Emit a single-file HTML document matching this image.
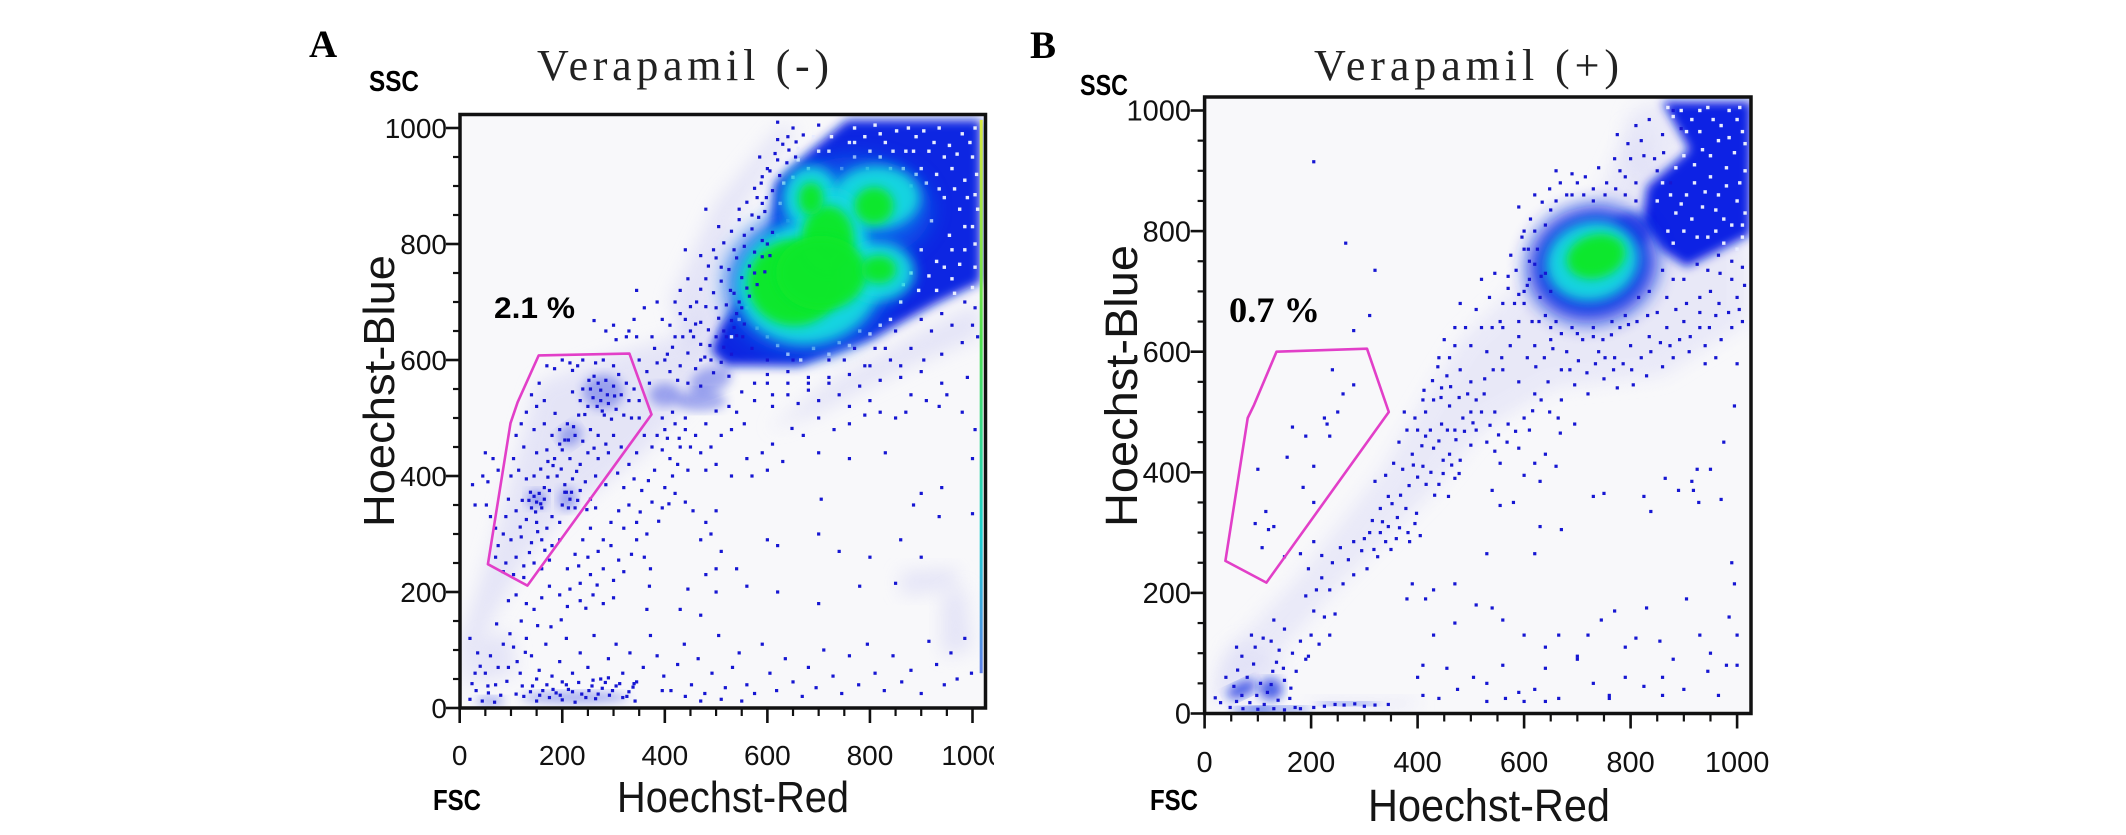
<!DOCTYPE html>
<html lang="en">
<head>
<meta charset="utf-8">
<title>Verapamil side population flow cytometry plots</title>
<style>
html,body{margin:0;padding:0;background:#fff;width:2126px;height:835px;overflow:hidden}
svg{display:block}
.tick{font-family:"Liberation Sans",sans-serif;fill:#111}
.axt{font-family:"Liberation Sans",sans-serif;fill:#151515}
.ttl{font-family:"Liberation Serif",serif;fill:#222}
.let{font-family:"Liberation Serif",serif;font-weight:bold;fill:#000}
.chan{font-family:"Liberation Sans",sans-serif;font-weight:bold;fill:#000}
</style>
</head>
<body>
<svg id="fig" xmlns="http://www.w3.org/2000/svg" width="2126" height="835" viewBox="0 0 2126 835">
<defs>
<filter id="blurPale" x="-40%" y="-40%" width="180%" height="180%"><feGaussianBlur stdDeviation="9"/></filter>
<filter id="blurBlue" x="-20%" y="-20%" width="140%" height="140%"><feGaussianBlur stdDeviation="5"/></filter>
<filter id="blurMid" x="-40%" y="-40%" width="180%" height="180%"><feGaussianBlur stdDeviation="10"/></filter>
<filter id="blurCyan" x="-40%" y="-40%" width="180%" height="180%"><feGaussianBlur stdDeviation="6"/></filter>
<filter id="blurGreen" x="-40%" y="-40%" width="180%" height="180%"><feGaussianBlur stdDeviation="5"/></filter>
<clipPath id="clipA"><rect x="461" y="116" width="523" height="591"/></clipPath>
<clipPath id="clipB"><rect x="1206" y="98" width="544" height="614"/></clipPath>
<clipPath id="clipLabelA"><rect x="430" y="720" width="564" height="70"/></clipPath>
<linearGradient id="edgeGrad" x1="0" y1="0" x2="0" y2="1">
<stop offset="0" stop-color="#d8e840"/><stop offset="0.4" stop-color="#50e050"/><stop offset="0.75" stop-color="#20d0d0"/><stop offset="1" stop-color="#6080e8"/>
</linearGradient>
</defs>

<g id="panelA">
<text class="let" x="309" y="57" font-size="39">A</text>
<text class="ttl" x="537" y="80" font-size="44" textLength="292" lengthAdjust="spacing">Verapamil (-)</text>
<text class="chan" x="369" y="91" font-size="29" textLength="50" lengthAdjust="spacingAndGlyphs">SSC</text>
<text class="chan" x="433" y="810" font-size="29" textLength="48" lengthAdjust="spacingAndGlyphs">FSC</text>
<text class="axt" x="617" y="812" font-size="44" textLength="232" lengthAdjust="spacingAndGlyphs">Hoechst-Red</text>
<text class="axt" transform="translate(394,527) rotate(-90)" font-size="44" textLength="272" lengthAdjust="spacingAndGlyphs">Hoechst-Blue</text>
<rect x="460" y="114.5" width="525.5" height="593.5" fill="#f8f8fa"/>
<g id="marksA" clip-path="url(#clipA)"></g>
<g id="gateA"></g>
<rect x="460" y="114.5" width="525.5" height="593.5" fill="none" stroke="#111" stroke-width="3.5"/>
<g id="axesA"></g>
<text x="494" y="318" font-family="Liberation Sans, sans-serif" font-weight="bold" font-size="30" textLength="81" lengthAdjust="spacingAndGlyphs" fill="#000">2.1 %</text>
</g>

<g id="panelB">
<text class="let" x="1030" y="58" font-size="39">B</text>
<text class="ttl" x="1314" y="80" font-size="44" textLength="305" lengthAdjust="spacing">Verapamil (+)</text>
<text class="chan" x="1080" y="95" font-size="29" textLength="48" lengthAdjust="spacingAndGlyphs">SSC</text>
<text class="chan" x="1150" y="810" font-size="29" textLength="48" lengthAdjust="spacingAndGlyphs">FSC</text>
<text class="axt" x="1368" y="821" font-size="45" textLength="242" lengthAdjust="spacingAndGlyphs">Hoechst-Red</text>
<text class="axt" transform="translate(1137,527) rotate(-90)" font-size="45" textLength="282" lengthAdjust="spacingAndGlyphs">Hoechst-Blue</text>
<rect x="1204.6" y="97" width="546.4" height="616.5" fill="#f8f8fa"/>
<g id="marksB" clip-path="url(#clipB)"></g>
<g id="gateB"></g>
<rect x="1204.6" y="97" width="546.4" height="616.5" fill="none" stroke="#111" stroke-width="3.5"/>
<g id="axesB"></g>
<text x="1229" y="322" font-family="Liberation Serif, serif" font-weight="bold" font-size="36" textLength="91" lengthAdjust="spacingAndGlyphs" fill="#000">0.7 %</text>
</g>
</svg>

<script>
const tickLabels = [0, 200, 400, 600, 800, 1000];
const minorTicks = [50, 100, 150, 250, 300, 350, 450, 500, 550, 650, 700, 750, 850, 900, 950];

const gateA = [[154,608],[331,611],[374,506],[132,211],[55,248],[99,491],[113,527]];
const gateB = [[135,600],[305,605],[346,500],[116,217],[39,253],[81,490],[93,512]];

/* density regions, read as outlines in axis units */
const paleRegionsA = [
 [[0,20],[60,150],[130,260],[200,330],[360,440],[480,560],[560,650],[500,720],[420,640],[300,610],[150,560],[70,300],[0,110]],
 [[600,480],[720,560],[900,650],[1015,700],[1015,640],[880,590],[700,510]],
 [[860,195],[970,205],[970,240],[860,235]],
 [[940,90],[1000,100],[985,210],[940,190]],
 [[20,40],[110,60],[100,130],[40,120]],
 [[450,600],[540,850],[660,1000],[620,1000],[500,870],[410,700]]
];
const blueRegionsA = [
 [[756,1014],[690,965],[615,905],[610,835],[585,770],[555,716],[510,660],[490,615],[520,590],[567,590],[662,590],[803,636],[928,697],[1016,734],[1016,1014]]
];
const blueBlobsA = [[400,540,30,20,0],[470,530,50,18,0],[490,565,42,22,-20],[280,545,40,30,0],[215,470,24,18,-35],[150,360,20,16,0],[210,360,18,20,0],[225,18,105,10,0],[60,12,28,8,0]];
const midBlobsA = [[680,735,165,125,-10],[770,860,150,90,0]];
const cyanBlobsA = [[685,880,55,55,0],[813,880,85,55,0],[680,733,140,105,-10],[728,816,66,75,0],[817,752,70,50,0]];
const greenBlobsA = [[652,733,90,74,0],[718,810,50,56,0],[705,750,88,64,0],[808,866,38,32,0],[685,878,24,28,0],[817,756,34,24,0]];
const edgeStripA = [1014, 60, 1014];

const paleRegionsB = [
 [[20,30],[120,80],[260,220],[420,360],[520,470],[660,540],[860,560],[1020,650],[1020,780],[860,900],[800,980],[740,860],[600,720],[480,620],[330,400],[170,220],[30,90]],
 [[10,20],[120,20],[150,90],[60,120]],
 [[860,1015],[900,940],[840,880],[790,900],[800,1000]],
 [[200,5],[400,10],[400,24],[200,24]]
];
const blueRegionsB = [
 [[859,1015],[910,935],[831,874],[821,812],[859,768],[905,741],[1025,794],[1027,1015]]
];
const blueBlobsB = [[800,800,36,30,0],[70,40,30,12,-25],[125,40,22,18,0],[90,6,40,5,0],[140,8,60,4,0],[270,16,60,3,0]];
const midBlobsB = [[728,745,122,96,-14]];
const cyanBlobsB = [[728,750,88,66,-14]];
const greenBlobsB = [[735,758,56,36,-16]];

/* individual events, as [Hoechst-Red, Hoechst-Blue] */
const eventsA = [
[170,590],[185,585],[200,600],[215,595],[230,590],[220,582],[240,600],[265,595],[280,600],[300,590],[310,575],[325,560],[340,550],[350,530],[330,530],[315,540],[300,555],[285,565],[270,560],[255,550],[260,535],[275,530],[290,525],[305,515],[320,505],[335,500],[350,500],[250,520],[235,530],[220,545],[155,560],[140,540],[150,520],[165,530],[130,510],[120,490],[145,480],[165,490],[180,470],[195,480],[210,490],[225,470],[240,460],[255,480],[270,470],[285,455],[300,470],[315,450],[290,440],[270,430],[250,440],[235,420],[215,430],[200,445],[185,430],[170,445],[150,440],[125,450],[110,470],[105,430],[100,400],[115,410],[130,395],[145,400],[155,370],[165,360],[175,375],[150,355],[140,345],[160,345],[190,400],[205,385],[220,395],[235,375],[215,360],[200,350],[225,345],[245,390],[265,400],[255,360],[180,330],[195,320],[170,310],[150,320],[130,325],[110,340],[95,360],[90,330],[85,300],[100,290],[120,295],[140,285],[160,290],[180,280],[195,290],[75,280],[70,260],[90,250],[110,260],[125,245],[145,250],[160,240],[175,255],[105,230],[125,225],[85,235],[208,372],[198,412],[228,408],[262,448],[278,512],[296,498],[244,506],[212,462],[186,508],[158,412],[138,372],[122,358],[172,398],[248,342],[118,312],[136,268],[152,304],[166,272],
[50,440],[65,430],[45,400],[55,390],[25,385],[52,350],[60,330],[70,310],[75,410],[30,350],
[360,470],[375,450],[345,440],[330,420],[395,445],[410,430],[430,450],[425,420],[445,410],[415,400],[400,380],[380,410],[340,395],[320,380],[330,350],[355,375],[375,355],[395,345],[420,370],[440,355],[455,340],[310,340],[295,320],[320,310],[345,320],[365,300],[280,290],[255,310],[240,290],[225,265],[250,260],[270,270],[295,280],[310,255],[335,265],[320,235],[300,220],[280,240],[255,230],[235,215],[210,240],[215,205],[195,195],[175,210],[160,190],[145,170],[130,180],[110,195],[95,185],[210,175],[235,185],[260,195],[280,180],[300,190],[365,170],[370,210],[372,240],[360,260],[345,290],[265,345],[285,385],[308,405],[368,392],[408,352],[388,322],[352,338],[232,245],[268,212],[246,172],[198,152],[178,140],[152,142],[120,150],[98,128],[72,145],
[400,480],[420,490],[440,500],[415,510],[395,500],[460,470],[480,490],[470,440],[450,450],[490,450],[510,470],[530,480],[555,490],[480,410],[500,420],[590,440],[610,455],[630,425],[560,430],[530,400],[570,400],[600,410],[440,480],[428,465],[405,465],[385,470],[648,482],[670,470],[700,500],[730,480],[760,520],[800,530],[850,500],[880,540],[935,520],[1005,480],[980,510],[940,560],[905,600],[860,590],[830,620],[790,590],[750,600],[720,570],[680,560],[640,540],[610,520],[650,600],[600,560],[575,530],[540,510],[700,440],[760,430],[830,440],[1000,430],[940,380],[900,370],[885,350],[705,360],[700,300],[740,270],[800,260],[860,290],[900,260],[935,330],[1000,335],[600,290],[620,280],[500,340],[480,320],[490,300],[470,290],[510,270],[540,240],[500,240],[480,230],[560,210],[620,200],[700,180],[780,210],[850,215],[500,200],[430,170],[445,205],[470,160],
[20,120],[35,95],[50,60],[60,90],[70,40],[85,110],[95,70],[105,105],[118,60],[130,120],[140,90],[155,65],[168,110],[180,55],[195,80],[208,120],[220,60],[235,95],[250,70],[262,125],[275,50],[290,85],[305,110],[318,60],[332,95],[345,45],[358,70],[372,125],[385,90],[398,55],[412,30],[425,75],[438,110],[452,40],[465,85],[478,25],[492,60],[505,125],[518,35],[532,70],[545,95],[560,40],[575,25],[590,110],[605,60],[618,30],[635,85],[650,45],[668,20],[680,70],[695,35],[710,100],[728,55],[745,25],[760,90],[778,40],[795,110],[810,60],[828,30],[845,90],[862,45],[880,65],[900,25],[915,115],[930,75],[945,40],[958,95],[970,50],[985,120],[998,60],[20,15],[32,30],[44,12],[56,26],[68,10],[80,22],[125,20],[138,28],[150,12],[162,30],[175,18],[188,26],[200,14],[212,32],[225,10],[238,24],[252,30],[265,16],[278,34],[292,22],[305,38],[318,18],[330,28],[342,12],[260,48],[200,45],[150,50],[290,52],[340,42],[395,30],[440,20],[470,12],[510,15],[550,12],
[456,640],[470,665],[488,625],[500,690],[515,650],[528,720],[540,680],[552,640],[462,700],[440,670],[420,640],[405,610],[385,595],[365,580],[345,640],[325,640],[305,635],[285,650],[420,700],[445,740],[480,740],[510,760],[535,790],[555,815],[570,850],[580,880],[590,870],[495,790],[470,780],[440,790],[395,670],[380,620],[530,610],[570,620],[600,600],[640,580],[680,570],[720,600],[770,620],[810,620],[850,650],[900,670],[940,680],[985,700],[1005,690],[620,945],[600,930],[588,905],[640,985],[700,1005],[650,1000],[430,720],[360,690],[345,720],[545,860],[505,830],[480,860],[620,980],[585,950],[620,1010],
[400,600],[415,622],[430,590],[445,612],[460,585],[478,605],[495,578],[510,596],[525,572],[540,642],[555,662],[470,627],[485,652],[505,672],[520,695],[535,715],[550,742],[565,762],[575,786],[590,806],[500,640],[515,622],[480,692],[495,716],[510,736],[525,756],[540,776],[555,796],[570,826],[583,846],[595,856],[460,662],[450,692],[470,722],[485,762],[500,776],[515,802],[530,822],[545,842],[560,872],[575,896],[590,916],[605,926],[615,956],[630,972],[642,962],[656,976],[530,668],[545,700],[560,724],[575,750],[590,778],[600,800],[470,600],[490,600],[520,640],[535,656],[550,690],[565,710],[580,730],[595,752],[605,780],[610,820],[598,880],[610,892],[624,918],[638,940],[655,950],[670,988],[435,640],[450,650],[410,580],[425,565],[445,560],[470,555],[500,512],[525,520],[550,545],[575,560],[600,575],[640,560],[680,548],[720,560],[760,575],[800,590],[840,600],[880,620],[920,650],[960,660],[1000,660],[610,540],[660,525],[700,530],[740,540],[780,555],[820,565],[860,570],[900,580],[940,610],[980,630],[1010,640],[760,490],[790,505],[820,510],[870,510],[910,530],[950,540],[990,570],[370,560],[350,600],[330,650],[300,660],[262,668],[340,670],[375,640],[410,660],[430,680],[385,700],
[240,550],[252,565],[262,572],[275,548],[288,540],[302,538],[268,520],[282,505],[232,505],[222,485],[205,462],[195,455],[182,418],[172,425],[165,380],[145,365],[135,358],[158,352],[148,338],[205,372],[218,372],[230,358],[212,345],[30,60],[24,42],[40,72],[55,38],[75,70],[92,46],[110,24],[122,38],[112,80],[128,96],[142,38],[156,22],[170,40],[182,32],[196,22],[208,40],[220,28],[232,44],[246,18],[258,38],[270,24],[284,44],[298,30],[312,42],[326,20],[338,36]
];
const whiteSpecksA = [
[770,1000],[790,985],[810,1005],[830,975],[852,995],[870,960],[890,985],[915,960],[935,1000],[955,970],[980,990],[1000,950],[800,960],[760,975],[725,985],[700,960],[660,945],[650,915],[625,870],[640,840],[900,930],[930,920],[960,930],[985,910],[1005,885],[880,900],[945,880],[975,860],[1000,830],[920,840],[955,815],[985,790],[1005,760],[930,770],[960,740],[900,790],[880,750],[860,700],[820,660],[780,650],[740,630],[690,620],[640,610],[600,640],[570,700],[590,760],[885,960],[840,930],[795,930],[745,930],
[770,975],[820,990],[845,960],[875,1000],[905,995],[925,975],[945,950],[970,955],[995,975],[1008,920],[990,880],[965,895],[935,895],[910,905],[890,920],[865,930],[820,950],[770,950],[720,960],[680,930],[960,790],[985,830],[1005,800],[975,765],[945,760],[915,745],[895,720],[930,720],[965,715],[1000,725],[865,730],[840,670],[800,645],[760,625],[720,610],[665,600],[620,625],[580,655],[545,670],[560,690],[530,640],[610,790],[620,815],[632,905],[660,965],[690,985],[1005,1000],[1010,860]
];

const eventsB = [
[40,60],[55,45],[70,30],[62,72],[80,60],[92,82],[105,50],[118,35],[128,70],[138,22],[150,55],[162,42],[98,30],[85,18],[112,15],[125,48],[135,85],[148,75],[160,25],[172,70],[180,8],[195,95],[60,20],[30,18],[20,26],[48,10],[72,8],[100,7],[130,8],[150,6],[170,10],[205,10],[225,12],[245,15],[262,14],[282,16],[300,12],[320,14],[345,15],[95,110],[110,125],[70,95],[88,130],[60,110],[125,120],[140,105],[165,100],[150,140],[130,155],[180,120],[200,130],[190,90],[215,115],[235,130],[245,165],[225,160],[205,170],[190,195],[210,205],[235,205],[220,225],[195,240],[180,265],[205,285],[220,262],[240,250],[255,275],[270,255],[280,285],[295,270],[310,300],[325,260],[340,285],[305,240],[280,230],[260,215],[330,340],[345,360],[362,325],[378,340],[395,315],[405,295],[385,285],[360,290],[345,310],[330,300],[315,320],[320,385],[340,395],[355,415],[372,405],[390,430],[410,410],[425,400],[440,380],[458,360],[470,390],[448,420],[430,440],[415,460],[400,470],[380,470],[365,450],[460,430],[480,420],[470,470],[445,480],[415,500],[430,520],[445,540],[460,510],[485,490],[510,470],[530,450],[545,435],[555,415],[500,445],[590,440],[610,470],[570,480],[545,500],[525,530],[500,550],[480,570],[460,590],[450,620],[470,640],[500,610],[530,600],[560,570],[590,550],[620,530],[645,550],[670,520],[695,545],[720,530],[750,555],[775,540],[805,545],[830,560],[860,575],[880,590],[910,600],[940,610],[970,620],[990,640],[1010,650],[480,680],[510,670],[535,690],[560,640],[590,650],[620,610],[650,620],[680,600],[710,620],[740,600],[770,590],[800,610],[835,625],[868,640],[900,650],[930,640],[960,660],[1000,690],[520,720],[545,730],[570,705],[600,680],[610,720],[625,770],[600,800],[575,760],[650,835],[620,860],[590,840],[680,860],[700,880],[730,870],[660,900],[780,900],[800,920],[820,950],[775,960],[835,985],[860,960],[845,920],[740,905],[410,520],[395,490],[375,500],[500,500],[455,560],[438,575],
[540,370],[600,395],[620,415],[640,430],[660,410],[668,465],[695,480],[630,385],[580,350],[555,345],[630,310],[670,305],[730,360],[750,365],[825,360],[838,335],[865,390],[890,370],[915,385],[925,405],[950,405],[975,450],[995,510],[990,250],[995,215],[928,350],[918,370],[970,355],[940,580],[960,590],[1000,580],
[165,475],[190,460],[230,480],[250,500],[240,570],[280,545],[260,530],[205,410],[155,425],[100,405],[205,350],[185,375],[115,335],[95,315],[120,305],[108,275],[150,260],[130,310],[235,460],[225,490],[280,635],[320,735],[310,660],[265,780],[205,915],
[620,265],[530,265],[430,205],[415,190],[390,215],[380,190],[470,215],[510,180],[540,175],[560,155],[600,130],[640,110],[665,130],[700,90],[720,130],[745,155],[770,170],[790,110],[810,125],[830,175],[855,120],[880,90],[905,190],[930,130],[950,100],[985,160],[1000,130],[980,80],[1000,80],[430,130],[470,150],[410,80],[455,75],[505,60],[530,50],[560,80],[590,35],[620,40],[640,75],[665,25],[700,95],[730,50],[760,30],[790,60],[825,45],[860,60],[900,40],[945,70],[965,30],[475,40],[440,25],[410,30],[400,60],[530,20],[565,25],[600,20],[760,25],[640,20],[860,30],
[300,290],[318,272],[334,318],[350,272],[366,308],[382,300],[398,332],[352,348],[368,362],[384,378],[400,392],[416,380],[432,362],[448,398],[464,412],[478,398],[392,412],[408,444],[424,470],[440,452],[456,470],[472,454],[488,468],[504,482],[520,500],[536,478],[552,462],[568,450],[584,468],[600,490],[616,502],[632,520],[648,500],[664,490],[412,536],[428,552],[444,524],[462,542],[478,524],[494,530],[510,520],[526,555],[542,570],[558,590],[574,610],[590,625],[606,590],[622,575],[638,590],[654,605],[670,570],[686,570],[702,585],[718,565],[734,580],[752,590],[768,570],[786,580],[802,570],[820,590],[838,600],[856,615],[874,610],[892,620],[912,625],[930,665],[948,640],[966,680],[984,665],[1004,670],[1014,710],[990,720],[968,730],[950,700],[930,690],[905,680],[885,670],[868,690],[850,665],[832,660],[812,650],[796,645],[780,640],[764,628],[748,620],[730,640],[690,640],[660,650],[640,660],[615,650],[600,700],[582,680],[630,690],[650,700],[640,730],[610,750],[620,800],[640,810],[660,850],[690,895],[715,890],[755,880],[790,890],[810,880],[770,920],[795,945],[825,925],[810,975],[850,900],[862,930],[875,880],[880,1000],[895,970],[1010,740],[990,750],[965,760],[945,735],[925,745],[900,720],[880,720],[860,735],[600,770],[585,735],[570,725],[560,680],[555,650],[540,640],[520,640],[490,640],[470,610],[440,590],
[596,790],[608,770],[620,745],[632,725],[606,710],[590,695],[612,820],[634,848],[648,870],[668,880],[690,860],[712,860],[730,850],[752,860],[772,870],[790,860],[810,850],[628,650],[650,640],[670,630],[700,630],[730,625],[765,650],[790,660],[815,690],[835,700]
];
const whiteSpecksB = [
[880,990],[905,965],[930,1000],[955,985],[985,1000],[1010,965],[900,925],[935,935],[965,950],[995,930],[1015,900],[950,890],[980,875],[920,880],[1000,850],[960,835],[990,810],[935,840],[915,820],[875,860],[860,880],[895,845],[945,790],[975,780],[870,800],[1010,790],[1015,830],[885,905],[1005,1005],[930,965],
[870,1005],[895,1000],[915,985],[945,1005],[970,975],[1000,985],[1015,945],[985,955],[950,925],[920,910],[980,905],[1005,880],[965,860],[940,865],[905,860],[885,830],[850,850],[975,820],[1010,810],[960,800],[925,790],[900,800],[880,780],[1000,770]
];

const figNS = 'http://www.w3.org/2000/svg';

function makeScale(origin, pxPerUnit) {
  return function (v) { return origin + v * pxPerUnit; };
}

const xA = makeScale(459.7, 0.5128);
const yA = makeScale(708, -0.58);
const xB = makeScale(1204.6, 0.5325);
const yB = makeScale(713.5, -0.603);

function shape(tag, parent, attrs) {
  const el = document.createElementNS(figNS, tag);
  Object.keys(attrs).forEach(function (k) { el.setAttribute(k, attrs[k]); });
  parent.appendChild(el);
  return el;
}

function drawRegions(parent, regions, x, y, fill, filter, opacity) {
  regions.forEach(function (region) {
    const pts = region.map(function (p) { return x(p[0]).toFixed(1) + ',' + y(p[1]).toFixed(1); }).join(' ');
    const el = shape('polygon', parent, { points: pts, fill: fill, filter: filter, opacity: opacity });
    
    
  });
}

function drawBlobs(parent, blobs, x, y, fill, filter, opacity) {
  blobs.forEach(function (b) {
    const cx = x(b[0]), cy = y(b[1]);
    const rx = Math.abs(x(b[2]) - x(0)), ry = Math.abs(y(b[3]) - y(0));
    const el = shape('ellipse', parent, {
      cx: cx, cy: cy, rx: rx, ry: ry, fill: fill, filter: filter, opacity: opacity,
      transform: 'rotate(' + b[4] + ' ' + cx + ' ' + cy + ')'
    });
    
    
  });
}

function drawDots(parent, pts, x, y, fill, size) {
  pts.forEach(function (p) {
    const el = shape('rect', parent, {
      x: x(p[0]) - size / 2, y: y(p[1]) - size / 2, width: size, height: size, fill: fill
    });
    
    
  });
}

function drawGate(parent, gate, x, y) {
  const pts = gate.map(function (p) { return x(p[0]).toFixed(1) + ',' + y(p[1]).toFixed(1); }).join(' ');
  const el = shape('polygon', parent, { points: pts, fill: 'none', stroke: '#e23fc8', 'stroke-width': 2.6, 'stroke-linejoin': 'round' });
  
  
}

function drawAxes(parent, x, y, xBase, yBase, labelY, labelRight, fontSize, clip) {
  const labels = shape('g', parent, clip ? { 'clip-path': clip } : {});
  
  
  tickLabels.forEach(function (t) {
    const a = shape('line', parent, { x1: x(t), x2: x(t), y1: xBase, y2: xBase + 15, stroke: '#111', 'stroke-width': 2.6 });
    
    
    const b = shape('line', parent, { x1: yBase - 14, x2: yBase, y1: y(t), y2: y(t), stroke: '#111', 'stroke-width': 2.6 });
    
    
    const lx = shape('text', labels, { x: x(t), y: labelY, 'text-anchor': 'middle', 'font-size': fontSize, class: 'tick' });
    lx.textContent = t;
    
    
    const ly = shape('text', parent, { x: labelRight, y: y(t) + fontSize * 0.35, 'text-anchor': 'end', 'font-size': fontSize, class: 'tick' });
    ly.textContent = t;
    
    
  });
  minorTicks.forEach(function (t) {
    const a = shape('line', parent, { x1: x(t), x2: x(t), y1: xBase, y2: xBase + 8, stroke: '#111', 'stroke-width': 2.2 });
    
    
    const b = shape('line', parent, { x1: yBase - 7, x2: yBase, y1: y(t), y2: y(t), stroke: '#111', 'stroke-width': 2.2 });
    
    
  });
}

const marksA = document.getElementById('marksA');
drawRegions(marksA, paleRegionsA, xA, yA, '#d4d4f4', 'url(#blurPale)', 0.55);
drawRegions(marksA, blueRegionsA, xA, yA, '#0c26e2', 'url(#blurBlue)', 1);
drawBlobs(marksA, blueBlobsA, xA, yA, '#2a3ce0', 'url(#blurBlue)', 0.4);
drawDots(marksA, whiteSpecksA, xA, yA, '#e8ecff', 3.4);
drawBlobs(marksA, midBlobsA, xA, yA, '#0e60ea', 'url(#blurMid)', 0.85);
drawBlobs(marksA, cyanBlobsA, xA, yA, '#14d8e0', 'url(#blurCyan)', 0.97);
drawBlobs(marksA, greenBlobsA, xA, yA, '#0ee82a', 'url(#blurGreen)', 0.98);
drawDots(marksA, eventsA, xA, yA, '#1616d2', 3.2);
const stripA = shape('rect', marksA, {
  x: xA(edgeStripA[0]), y: yA(edgeStripA[2]), width: 3,
  height: yA(edgeStripA[1]) - yA(edgeStripA[2]), fill: 'url(#edgeGrad)'
});


drawGate(document.getElementById('gateA'), gateA, xA, yA);
drawAxes(document.getElementById('axesA'), xA, yA, 708, 460, 765, 447, 28, 'url(#clipLabelA)');

const marksB = document.getElementById('marksB');
drawRegions(marksB, paleRegionsB, xB, yB, '#dadaf6', 'url(#blurPale)', 0.5);
drawRegions(marksB, blueRegionsB, xB, yB, '#0a22e4', 'url(#blurBlue)', 1);
drawBlobs(marksB, blueBlobsB, xB, yB, '#0c2ae2', 'url(#blurBlue)', 0.7);
drawDots(marksB, whiteSpecksB, xB, yB, '#e8ecff', 3.4);
drawBlobs(marksB, midBlobsB, xB, yB, '#0c2ee4', 'url(#blurMid)', 0.95);
drawBlobs(marksB, cyanBlobsB, xB, yB, '#14d8e0', 'url(#blurCyan)', 0.97);
drawBlobs(marksB, greenBlobsB, xB, yB, '#0ee82a', 'url(#blurGreen)', 0.98);
drawDots(marksB, eventsB, xB, yB, '#1616d2', 3.2);
drawGate(document.getElementById('gateB'), gateB, xB, yB);
drawAxes(document.getElementById('axesB'), xB, yB, 713.5, 1204.6, 772, 1191, 29, null);
</script>
</body>
</html>
